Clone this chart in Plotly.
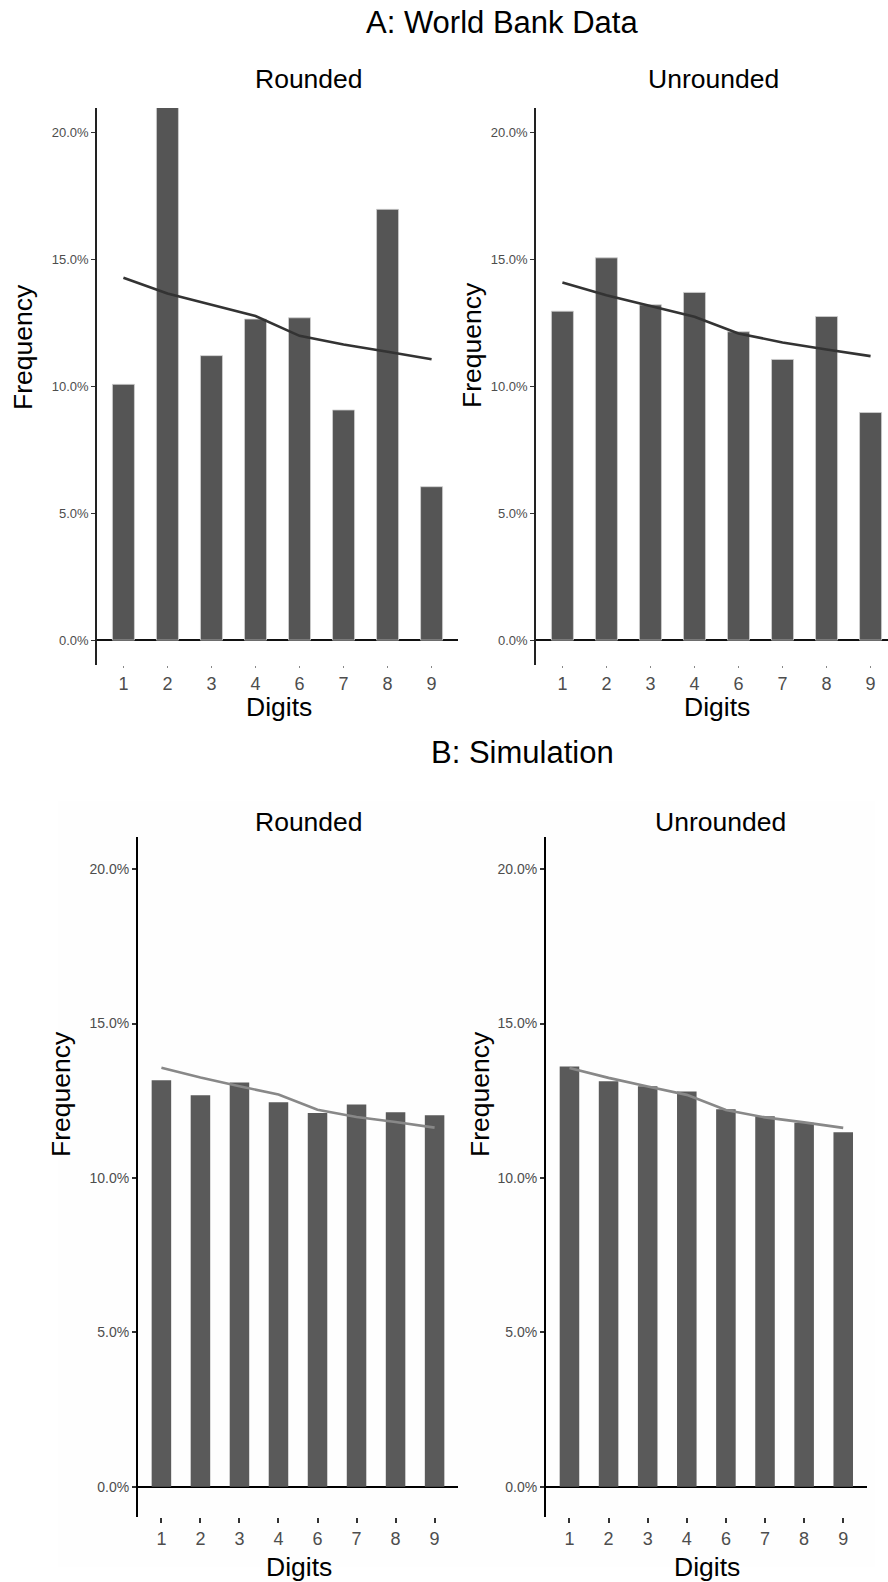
import plotly.graph_objects as go

W, H = 888, 1582

digits = ["1", "2", "3", "4", "6", "7", "8", "9"]

# Panel A: World Bank data (percent)
a_rounded = [10.07, 21.0, 11.2, 12.64, 12.69, 9.06, 16.96, 6.04]
a_rounded_expected = [14.27, 13.65, 13.2, 12.76, 11.98, 11.64, 11.35, 11.06]
a_unrounded = [12.95, 15.05, 13.2, 13.69, 12.14, 11.05, 12.74, 8.96]
a_unrounded_expected = [14.08, 13.58, 13.15, 12.73, 12.07, 11.72, 11.44, 11.18]

# Panel B: Simulation (percent)
b_rounded = [13.16, 12.68, 13.09, 12.45, 12.1, 12.38, 12.13, 12.03]
b_rounded_expected = [13.57, 13.25, 12.97, 12.7, 12.21, 11.97, 11.81, 11.63]
b_unrounded = [13.61, 13.13, 12.97, 12.8, 12.22, 12.0, 11.79, 11.48]
b_unrounded_expected = [13.56, 13.24, 12.96, 12.69, 12.2, 11.96, 11.8, 11.62]

y_ticks = [0, 5, 10, 15, 20]
y_tick_labels = ["0.0%", "5.0%", "10.0%", "15.0%", "20.0%"]

FONT = "Liberation Sans, Arial, Helvetica, sans-serif"


def px(x):
    return x / W


def py(y):
    return 1 - y / H


fig = go.Figure()

panels = [
    dict(n=1, bars=a_rounded, line=a_rounded_expected, bc="#555555", blc="#d0d0d0", blw=0.8,
         lc="#333333", xd=[px(97), px(458)], yd=[py(665), py(108)], xr=[-0.6, 7.6],
         yr=[-0.98, 20.95], B=False),
    dict(n=2, bars=a_unrounded, line=a_unrounded_expected, bc="#555555", blc="#d0d0d0", blw=0.8,
         lc="#333333", xd=[px(536), 1.0], yd=[py(665), py(108)], xr=[-0.6, 7.396],
         yr=[-0.98, 20.95], B=False),
    dict(n=3, bars=b_rounded, line=b_rounded_expected, bc="#5a5a5a", blc="#5a5a5a", blw=0,
         lc="#888888", xd=[px(138), px(458)], yd=[py(1517), py(837)], xr=[-0.6, 7.6],
         yr=[-0.98, 21.04], B=True),
    dict(n=4, bars=b_unrounded, line=b_unrounded_expected, bc="#5a5a5a", blc="#5a5a5a", blw=0,
         lc="#888888", xd=[px(546), px(866.7)], yd=[py(1517), py(837)], xr=[-0.6, 7.6],
         yr=[-0.98, 21.04], B=True),
]

layout_axes = {}
for p in panels:
    n = p["n"]
    xa = "x" if n == 1 else f"x{n}"
    ya = "y" if n == 1 else f"y{n}"
    fig.add_trace(go.Bar(
        x=digits, y=p["bars"], width=0.5,
        marker=dict(color=p["bc"], line=dict(color=p["blc"], width=p["blw"])),
        xaxis=xa, yaxis=ya, showlegend=False,
    ))
    fig.add_trace(go.Scatter(
        x=digits, y=p["line"], mode="lines",
        line=dict(color=p["lc"], width=2.6),
        xaxis=xa, yaxis=ya, showlegend=False,
    ))
    B = p["B"]
    layout_axes["xaxis" if n == 1 else f"xaxis{n}"] = dict(
        domain=p["xd"], anchor=ya, type="category", range=p["xr"],
        showline=False, showgrid=False, zeroline=False,
        ticks="outside", ticklen=5 if B else 2, tickwidth=1.5 if B else 1,
        tickcolor="#333333" if B else "#888888",
        tickfont=dict(size=18, color="#4d4d4d", family=FONT),
        categoryorder="array", categoryarray=digits,
    )
    layout_axes["yaxis" if n == 1 else f"yaxis{n}"] = dict(
        domain=p["yd"], anchor=xa, range=p["yr"],
        showline=True, linecolor="#000000" if B else "#222222", linewidth=2 if B else 1.5,
        showgrid=False,
        zeroline=True, zerolinecolor="#000000" if B else "#111111", zerolinewidth=2 if B else 1.5,
        tickmode="array", tickvals=y_ticks, ticktext=y_tick_labels,
        ticks="outside", ticklen=4, tickwidth=1.5 if B else 1,
        tickcolor="#333333",
        tickfont=dict(size=14 if B else 13, color="#4d4d4d", family=FONT),
    )

annotations = []


def ann(text, x, y, size, angle=0):
    annotations.append(dict(
        text=text, x=px(x), y=py(y), xref="paper", yref="paper",
        xanchor="center", yanchor="middle", showarrow=False, textangle=angle,
        font=dict(size=size, color="#000000", family=FONT),
    ))


ann("A: World Bank Data", 502, 23, 31)
ann("B: Simulation", 522, 752, 31)
ann("Rounded", 309, 79, 26.5)
ann("Unrounded", 713, 79, 26.5)
ann("Rounded", 309, 822, 26.5)
ann("Unrounded", 720, 822, 26.5)
ann("Frequency", 23, 347, 26.5, -90)
ann("Frequency", 472, 345, 26.5, -90)
ann("Frequency", 61, 1094, 26.5, -90)
ann("Frequency", 480, 1094, 26.5, -90)
ann("Digits", 279, 707, 26.5)
ann("Digits", 717, 707, 26.5)
ann("Digits", 299, 1567, 26.5)
ann("Digits", 707, 1567, 26.5)

shapes = [dict(
    type="rect", xref="paper", yref="paper", layer="below",
    x0=px(58), x1=px(875), y0=py(1567), y1=py(801),
    fillcolor="#fefefe", line=dict(width=0),
)]

fig.update_layout(
    width=W, height=H,
    margin=dict(l=0, r=0, t=0, b=0),
    paper_bgcolor="#ffffff", plot_bgcolor="rgba(0,0,0,0)",
    font=dict(family=FONT),
    annotations=annotations, shapes=shapes,
    bargap=0.5,
    **layout_axes,
)

fig.write_html("out.html")
